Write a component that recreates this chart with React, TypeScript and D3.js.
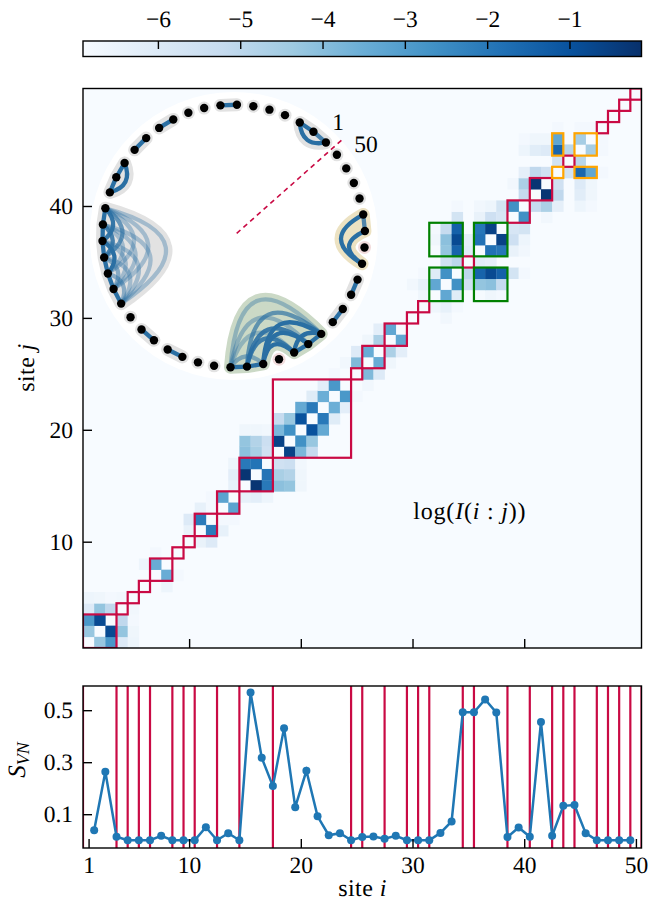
import React, { useRef, useEffect } from 'react';
import * as d3 from 'd3';

// bonds 1.5 ... 49.5
const entropy = [
  0.038, 0.263, 0.013, 0, 0, 0, 0.017, 0, 0, 0, 0.05, 0, 0.027, 0, 0.568, 0.317, 0.208, 0.431, 0.127, 0.267,
  0.092, 0.019, 0.027, 0, 0.012, 0.014, 0.006, 0.017, 0, 0, 0, 0.028, 0.072, 0.492, 0.492, 0.541, 0.491, 0.012,
  0.049, 0.013, 0.455, 0.017, 0.132, 0.135, 0.027, 0, 0, 0, 0,
];
const cuts = [0, 3, 4, 5, 6, 8, 9, 10, 12, 14, 17, 24, 25, 27, 29, 30, 31, 34, 35, 38, 40, 42, 43, 44, 46, 47, 48, 49, 50];
const greenGroups = [[32, 34], [36, 38]];
const orangeGroups = [[43, 43], [45, 46]];
const loneSites = [35, 44];

// log mutual information, [site a, site b, value], matrix is symmetric
const miStart = [
  [1, 2, -4.26], [1, 3, -2.84], [1, 4, -6.03], [1, 5, -6.57], [2, 3, -0.8], [2, 4, -4.2], [2, 5, -6.64],
  [3, 4, -5.08], [3, 5, -6.77], [4, 5, -6.71], [6, 8, -6.57], [7, 8, -3.45], [7, 9, -6.77],
  [10, 11, -6.43], [10, 12, -6.03], [11, 12, -2.09], [11, 13, -6.37], [12, 13, -6.77], [12, 14, -6.77], [13, 14, -3.18],
];
const miMiddle = [
  [14, 15, -6.37], [14, 16, -6.23], [14, 17, -6.57], [15, 16, -0.26], [15, 17, -2.03], [15, 18, -4.06], [15, 19, -4.2],
  [15, 20, -6.64], [16, 17, -1.89], [16, 18, -4.6], [16, 19, -4.81], [16, 20, -6.64], [17, 18, -5.55], [17, 19, -5.42],
  [17, 20, -6.71], [18, 19, -0.6], [18, 20, -3.79], [18, 21, -5.21], [19, 20, -2.64], [19, 21, -4.26], [20, 21, -1.0],
  [20, 22, -3.38], [21, 22, -2.03], [21, 23, -6.1], [22, 23, -3.52], [22, 24, -6.23], [23, 24, -2.84], [23, 25, -6.77],
  [24, 26, -6.71], [25, 26, -3.86], [25, 27, -6.03], [26, 27, -3.45], [26, 28, -6.64], [27, 28, -4.67], [27, 29, -6.23],
  [28, 29, -3.31],
];
const miGreen = [
  [30, 33, -6.71], [31, 32, -6.64], [31, 33, -6.37], [31, 34, -6.77], [32, 33, -3.31], [32, 34, -6.1], [32, 36, -6.84],
  [32, 37, -6.64], [32, 38, -6.77], [33, 34, -2.64], [33, 35, -5.55], [33, 36, -4.2], [33, 37, -4.06], [33, 38, -5.21],
  [34, 35, -5.01], [34, 36, -1.48], [34, 37, -0.8], [34, 38, -1.41], [34, 39, -5.69], [34, 40, -6.77], [35, 36, -6.16],
  [35, 37, -6.3], [36, 37, -1.82], [36, 38, -1.96], [36, 39, -6.43], [36, 40, -6.71], [37, 38, -0.6], [37, 39, -5.48],
  [37, 40, -6.57], [38, 39, -5.82], [38, 40, -5.69],
];
const miEnd = [
  [39, 40, -2.64], [39, 42, -6.71], [40, 41, -5.21], [40, 42, -4.67], [40, 43, -6.3], [40, 45, -6.57], [40, 46, -6.77],
  [41, 42, -0.26], [41, 43, -5.08], [41, 45, -6.16], [41, 46, -6.64], [42, 43, -5.55], [42, 45, -6.03], [42, 46, -6.64],
  [43, 44, -5.62], [43, 45, -1.55], [43, 46, -3.31], [43, 47, -6.77], [44, 45, -4.94], [45, 46, -4.54], [45, 47, -6.77],
  [46, 47, -6.77],
];
const miPairs = [...miStart, ...miMiddle, ...miGreen, ...miEnd];

const FONT = '"Liberation Serif", serif';
const RED = '#c90a44';
const FS = 23.5;
const nSites = 50;

const App = () => {
  const svgRef = useRef<SVGSVGElement>(null);

  useEffect(() => {
    const svg = d3.select(svgRef.current);
    svg.selectAll('*').remove();
    svg.style('font-family', FONT).style('text-rendering', 'geometricPrecision');

    const left = 83, right = 641.5;
    const x = d3.scaleLinear().domain([0.5, 50.5]).range([left, right]);
    const y = d3.scaleLinear().domain([0.5, 50.5]).range([648, 88.5]);
    const vMin = -6.91, vMax = -0.125;
    const blues = d3.piecewise(d3.interpolateRgb, d3.schemeBlues[9]);
    const color = d3.scaleSequential(blues).domain([vMin, vMax]);

    // colorbar
    const cx = d3.scaleLinear().domain([vMin, vMax]).range([left, right]);
    const defs = svg.append('defs');
    const grad = defs.append('linearGradient').attr('id', 'cbar');
    d3.schemeBlues[9].forEach((c, i) => {
      grad.append('stop').attr('offset', i / 8).attr('stop-color', c);
    });
    svg.append('rect').attr('x', left).attr('y', 41).attr('width', right - left).attr('height', 15.5).attr('fill', 'url(#cbar)');
    svg.append('rect').attr('x', left).attr('y', 41).attr('width', right - left).attr('height', 15.5)
      .attr('fill', 'none').attr('stroke', '#000').attr('stroke-width', 1.4);
    const cbAxis = svg.append('g').attr('transform', 'translate(0,41)')
      .call(d3.axisTop(cx).tickValues([-6, -5, -4, -3, -2, -1]).tickSize(-8).tickPadding(14).tickFormat(d3.format('d')));

    // heatmap
    defs.append('clipPath').attr('id', 'mainClip').append('rect')
      .attr('x', left).attr('y', 88.5).attr('width', right - left).attr('height', 559.5);
    const main = svg.append('g').attr('clip-path', 'url(#mainClip)');
    main.append('rect').attr('x', left).attr('y', 88.5).attr('width', right - left).attr('height', 559.5).attr('fill', color(vMin));
    const cells = miPairs.flatMap(([a, b, v]) => [[a, b, v], [b, a, v]]);
    main.selectAll('rect.cell').data(cells).enter().append('rect')
      .attr('class', 'cell')
      .attr('x', d => x(d[0] - 0.5))
      .attr('y', d => y(d[1] + 0.5))
      .attr('width', x(1.5) - x(0.5) + 0.3)
      .attr('height', y(0.5) - y(1.5) + 0.3)
      .attr('fill', d => color(d[2]));

    const box = (g, x0, x1, y0, y1, col) => g.append('rect')
      .attr('x', x(x0 - 0.5)).attr('y', y(y1 + 0.5))
      .attr('width', x(x1 + 0.5) - x(x0 - 0.5)).attr('height', y(y0 - 0.5) - y(y1 + 0.5))
      .attr('fill', 'none').attr('stroke', col).attr('stroke-width', 2.2);

    // inset ring
    const ringX = 233.7, ringY = 236, ringR = 131.3;
    const pos = (k: number) => {
      const t = ((-45.4 - 7.2 * (k - 1)) * Math.PI) / 180;
      return [ringX + ringR * Math.cos(t), ringY + ringR * Math.sin(t)];
    };
    const spanDepth = d3.scaleLinear().domain([2, 3, 4, 5, 6]).range([0.28, 0.36, 0.42, 0.48, 0.55]);
    const control = (a: number, b: number) => {
      const p = pos(a), q = pos(b);
      const mx = (p[0] + q[0]) / 2, my = (p[1] + q[1]) / 2;
      const chord = Math.hypot(p[0] - q[0], p[1] - q[1]);
      const s = Math.abs(a - b);
      const skips = s <= 3 && loneSites.some(k => k > Math.min(a, b) && k < Math.max(a, b));
      const depth = (spanDepth(s) + (skips ? (s === 2 ? 0.16 : 0.08) : 0)) * chord;
      const dl = Math.hypot(ringX - mx, ringY - my);
      return [mx + ((ringX - mx) / dl) * 2 * depth, my + ((ringY - my) / dl) * 2 * depth];
    };

    const groups: { sites: number[]; halo: string }[] = [];
    for (let c = 0; c < cuts.length - 1; c++) {
      const sites = d3.range(cuts[c] + 1, cuts[c + 1] + 1);
      const inGreen = greenGroups.some(g => sites[0] >= g[0] && sites[0] <= g[1]);
      const inOrange = orangeGroups.some(g => sites[0] >= g[0] && sites[0] <= g[1]);
      if (inGreen || inOrange) continue;
      groups.push({ sites, halo: loneSites.includes(sites[0]) ? '#f2dcdc' : '#e2e2e2' });
      box(main, sites[0], sites[sites.length - 1], sites[0], sites[sites.length - 1], RED);
    }
    greenGroups.forEach(a => greenGroups.forEach(b => box(main, a[0], a[1], b[0], b[1], 'green')));
    orangeGroups.forEach(a => orangeGroups.forEach(b => box(main, a[0], a[1], b[0], b[1], 'orange')));
    groups.push({ sites: greenGroups.flatMap(g => d3.range(g[0], g[1] + 1)), halo: '#cbd9c6' });
    groups.push({ sites: orangeGroups.flatMap(g => d3.range(g[0], g[1] + 1)), halo: '#ece2c2' });

    svg.append('circle').attr('cx', ringX).attr('cy', ringY).attr('r', 144).attr('fill', '#fff');

    const inset = svg.append('g');
    inset.append('line')
      .attr('x1', ringX + 4 * Math.cos(-0.726)).attr('y1', ringY + 4 * Math.sin(-0.726))
      .attr('x2', ringX + 144 * Math.cos(-0.726)).attr('y2', ringY + 144 * Math.sin(-0.726))
      .attr('stroke', RED).attr('stroke-width', 1.6).attr('stroke-dasharray', '5,4');

    const hullPath = (sites: number[]) => {
      const path = d3.path();
      const p0 = pos(sites[0]);
      path.moveTo(p0[0], p0[1]);
      if (sites.length === 1) {
        path.lineTo(p0[0] + 0.01, p0[1]);
        return path.toString();
      }
      for (let i = 1; i < sites.length; i++) {
        const p = pos(sites[i]);
        if (sites[i] - sites[i - 1] === 1) path.lineTo(p[0], p[1]);
        else {
          const c = control(sites[i - 1], sites[i]);
          path.quadraticCurveTo(c[0], c[1], p[0], p[1]);
        }
      }
      if (sites.length > 2) {
        const c = control(sites[sites.length - 1], sites[0]);
        path.quadraticCurveTo(c[0], c[1], p0[0], p0[1]);
      }
      return path.toString();
    };
    inset.selectAll('path.hull').data(groups).enter().append('path')
      .attr('class', 'hull')
      .attr('d', d => hullPath(d.sites))
      .attr('fill', d => d.halo)
      .attr('stroke', d => d.halo)
      .attr('stroke-width', 13)
      .attr('stroke-linejoin', 'round')
      .attr('stroke-linecap', 'round');

    // arcs within each group, alpha from the mutual information
    const lookup = new Map(miPairs.map(([a, b, v]) => [a + '-' + b, v]));
    const alpha = d3.scaleLinear().domain([-6.9, -3.5]).range([0.35, 1]).clamp(true);
    const arcs = groups.flatMap(g => g.sites.flatMap((a, i) => g.sites.slice(i + 1).map(b => ({
      a, b, v: lookup.get(a + '-' + b) ?? vMin,
    }))));
    arcs.sort((m, n) => m.v - n.v);
    inset.selectAll('path.arc').data(arcs).enter().append('path')
      .attr('class', 'arc')
      .attr('d', d => {
        const p = pos(d.a), q = pos(d.b);
        const path = d3.path();
        path.moveTo(p[0], p[1]);
        if (d.b - d.a === 1) path.lineTo(q[0], q[1]);
        else {
          const c = control(d.a, d.b);
          path.quadraticCurveTo(c[0], c[1], q[0], q[1]);
        }
        return path.toString();
      })
      .attr('fill', 'none')
      .attr('stroke', '#2a6fa3')
      .attr('stroke-opacity', d => alpha(d.v))
      .attr('stroke-width', 4.3);
    inset.selectAll('circle.site').data(d3.range(1, nSites + 1)).enter().append('circle')
      .attr('class', 'site')
      .attr('cx', d => pos(d)[0]).attr('cy', d => pos(d)[1]).attr('r', 4.2).attr('fill', '#000');

    const label = (px, py, s, anchor = 'middle') => svg.append('text')
      .attr('x', px).attr('y', py).attr('text-anchor', anchor).attr('font-size', FS).attr('fill', '#000').text(s);
    label(338, 130, '1');
    label(366, 152, '50');

    // main frame and axes
    svg.append('rect').attr('x', left).attr('y', 88.5).attr('width', right - left).attr('height', 559.5)
      .attr('fill', 'none').attr('stroke', '#000').attr('stroke-width', 1.4);
    const mainX = svg.append('g').attr('transform', 'translate(0,648)')
      .call(d3.axisBottom(x).tickValues([10, 20, 30, 40]).tickSize(-9).tickFormat(() => ''));
    const mainY = svg.append('g').attr('transform', `translate(${left},0)`)
      .call(d3.axisLeft(y).tickValues([10, 20, 30, 40]).tickSize(-9).tickPadding(10));

    const mi = svg.append('text').attr('x', 413.3).attr('y', 519).attr('font-size', 24).attr('letter-spacing', 0.8);
    mi.append('tspan').text('log(');
    mi.append('tspan').attr('font-style', 'italic').text('I');
    mi.append('tspan').text('(');
    mi.append('tspan').attr('font-style', 'italic').text('i');
    mi.append('tspan').text(' : ');
    mi.append('tspan').attr('font-style', 'italic').text('j');
    mi.append('tspan').text('))');

    const rowLabel = svg.append('text').attr('transform', 'translate(34,367.5) rotate(-90)').attr('text-anchor', 'middle')
      .attr('font-size', 24).attr('letter-spacing', 0.4);
    rowLabel.append('tspan').text('site ');
    rowLabel.append('tspan').attr('font-style', 'italic').text('j');

    // entropy panel
    const sy = d3.scaleLinear().domain([-0.03, 0.593]).range([848, 686]);
    defs.append('clipPath').attr('id', 'lowClip').append('rect')
      .attr('x', left).attr('y', 686).attr('width', right - left).attr('height', 162);
    const low = svg.append('g').attr('clip-path', 'url(#lowClip)');
    low.selectAll('line.cut').data(cuts).enter().append('line')
      .attr('class', 'cut')
      .attr('x1', d => x(d + 0.5)).attr('x2', d => x(d + 0.5))
      .attr('y1', 686).attr('y2', 848)
      .attr('stroke', RED).attr('stroke-width', 2.2);
    const bondX = (i: number) => x(i + 1.5);
    low.append('path').datum(entropy)
      .attr('d', d3.line<number>().x((d, i) => bondX(i)).y(d => sy(d)))
      .attr('fill', 'none').attr('stroke', '#1f77b4').attr('stroke-width', 2.5);
    low.selectAll('circle.pt').data(entropy).enter().append('circle')
      .attr('class', 'pt')
      .attr('cx', (d, i) => bondX(i)).attr('cy', d => sy(d)).attr('r', 4).attr('fill', '#1f77b4');
    svg.append('rect').attr('x', left).attr('y', 686).attr('width', right - left).attr('height', 162)
      .attr('fill', 'none').attr('stroke', '#000').attr('stroke-width', 1.4);
    const lowX = svg.append('g').attr('transform', 'translate(0,848)')
      .call(d3.axisBottom(x).tickValues([1, 10, 20, 30, 40, 50]).tickSize(-9).tickPadding(8.3));
    const lowY = svg.append('g').attr('transform', `translate(${left},0)`)
      .call(d3.axisLeft(sy).tickValues([0.1, 0.3, 0.5]).tickSize(-9).tickPadding(10).tickFormat(d3.format('.1f')));

    [cbAxis, mainX, mainY, lowX, lowY].forEach(g => {
      g.select('.domain').remove();
      g.selectAll('.tick line').attr('stroke', '#000').attr('stroke-width', 1.4);
      g.selectAll('text').attr('font-size', FS).attr('font-family', FONT).attr('fill', '#000');
    });

    const svn = svg.append('text').attr('transform', 'translate(25,760) rotate(-90)').attr('text-anchor', 'middle').attr('font-size', 25);
    svn.append('tspan').attr('font-style', 'italic').text('S');
    svn.append('tspan').attr('font-style', 'italic').attr('font-size', 18).attr('dy', 4).text('VN');
    const siteI = svg.append('text').attr('x', 362.5).attr('y', 895.5).attr('text-anchor', 'middle').attr('font-size', 24).attr('letter-spacing', 0.4);
    siteI.append('tspan').text('site ');
    siteI.append('tspan').attr('font-style', 'italic').text('i');
  }, []);

  return <svg ref={svgRef} width={649} height={902} style={{ position: 'absolute', left: 0, top: 0, display: 'block' }} />;
};

export default App;
